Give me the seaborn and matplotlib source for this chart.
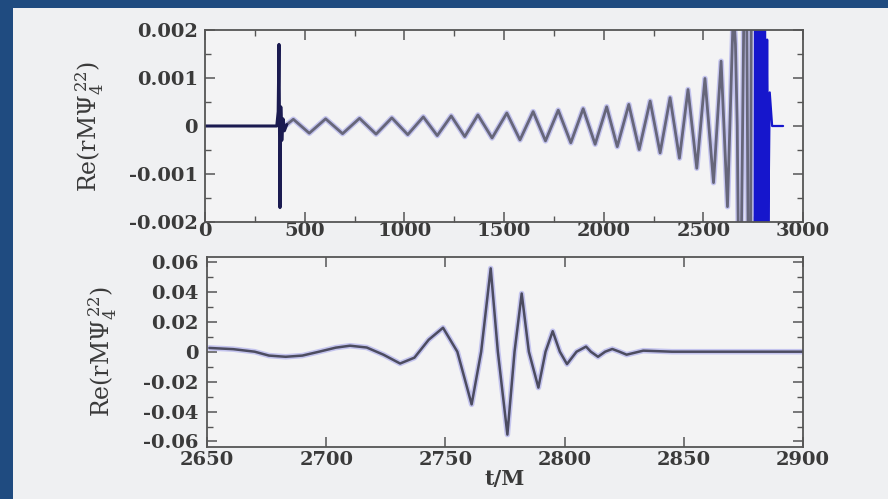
import matplotlib
matplotlib.use("Agg")
import matplotlib.pyplot as plt
from matplotlib.patches import Rectangle
from matplotlib.ticker import MultipleLocator
import seaborn as sns

# junk radiation burst at the start of the run (t/M, Re(rM Psi4))
junk_t = [0, 360, 367, 371, 376, 380, 385, 391, 398, 410]
junk_re = [0, 0, 0.0003, 0.0017, -0.0017, 0.0004, -0.0003, 0.00015, -0.0001, 0.00003]

# inspiral: peaks and troughs
insp_t = [443, 523, 605, 690, 775, 858, 937, 1017, 1095, 1165, 1235, 1303,
          1369, 1440, 1514, 1580, 1646, 1708, 1772, 1835, 1897, 1957, 2015, 2068,
          2126, 2178, 2233, 2283, 2333, 2380, 2423, 2467, 2508, 2551, 2589, 2621]
insp_re = [0.00014, -0.00015, 0.00015, -0.00016, 0.00016, -0.00017, 0.00017, -0.00018,
           0.00019, -0.00020, 0.00021, -0.00022, 0.00023, -0.00025, 0.00027, -0.00029,
           0.00030, -0.00031, 0.00033, -0.00035, 0.00036, -0.00038, 0.00040, -0.00043,
           0.00045, -0.00049, 0.00052, -0.00056, 0.00059, -0.00067, 0.00076, -0.00088,
           0.00099, -0.00118, 0.00135, -0.00168]

# merger + ringdown (lower panel)
mrg_t = [2651, 2661, 2670, 2676, 2683, 2690, 2697, 2704, 2710, 2717, 2724, 2731,
         2737, 2743, 2749, 2755, 2761, 2765, 2769, 2772, 2776, 2779, 2782, 2785,
         2789, 2792, 2795, 2798, 2801, 2805, 2809, 2811, 2814, 2817, 2820, 2823,
         2826, 2833, 2845, 2900]
mrg_re = [0.0025, 0.0017, 0.0, -0.0026, -0.0034, -0.0026, 0.0, 0.0027, 0.004, 0.0028,
          -0.002, -0.0079, -0.004, 0.008, 0.016, 0.0, -0.0352, 0.0, 0.0557, 0.0,
          -0.0554, 0.0, 0.0389, 0.0, -0.024, 0.0, 0.0137, 0.0, -0.0083, 0.0,
          0.0034, 0.0, -0.0034, 0.0, 0.0018, 0.0, -0.002, 0.0007, 0.0, 0.0]

top_xticks = [0, 500, 1000, 1500, 2000, 2500, 3000]
top_yticks = [-0.002, -0.001, 0, 0.001, 0.002]
top_ylabels = ['-0.002', '-0.001', '0', '0.001', '0.002']
bot_xticks = [2650, 2700, 2750, 2800, 2850, 2900]
bot_yticks = [-0.06, -0.04, -0.02, 0, 0.02, 0.04, 0.06]
bot_ylabels = ['-0.06', '-0.04', '-0.02', '0', '0.02', '0.04', '0.06']
ylab = r'Re(rM$\Psi_4^{\,22}$)'

sns.set_theme(style='ticks')
plt.rcParams['font.family'] = ['DejaVu Serif']
plt.rcParams['mathtext.fontset'] = 'dejavuserif'
plt.rcParams['axes.unicode_minus'] = False

fig = plt.figure(figsize=(8.88, 4.99), dpi=100, facecolor='#1f4b80')
fig.add_artist(Rectangle((13 / 888, 0), 1, 1 - 8 / 499, transform=fig.transFigure,
                         facecolor='#eff0f2', edgecolor='none', zorder=0))

ax1 = fig.add_axes([0.2309, 0.5551, 0.6734, 0.3848])
ax2 = fig.add_axes([0.2331, 0.1048, 0.6712, 0.3808])

# ---------------- upper panel: whole run ----------------
gray_t = junk_t[-1:] + insp_t + [t for t in mrg_t if t <= 2745]
gray_re = junk_re[-1:] + insp_re + [v for t, v in zip(mrg_t, mrg_re) if t <= 2745]

sns.lineplot(x=mrg_t, y=mrg_re, ax=ax1, color='#1616cc', lw=1.6,
             estimator=None, sort=False)
sns.lineplot(x=gray_t, y=gray_re, ax=ax1, color='#c4c4ee', lw=4.0,
             estimator=None, sort=False, solid_joinstyle='round')
sns.lineplot(x=gray_t, y=gray_re, ax=ax1, color='#66667a', lw=2.0,
             estimator=None, sort=False, solid_joinstyle='round')
sns.lineplot(x=junk_t, y=junk_re, ax=ax1, color='#1a1a50', lw=2.2,
             estimator=None, sort=False)

ax1.set_xlim(0, 3000)
ax1.set_ylim(-0.002, 0.002)
ax1.set_xticks(top_xticks)
ax1.set_yticks(top_yticks, labels=top_ylabels)
ax1.xaxis.set_minor_locator(MultipleLocator(250))
ax1.yaxis.set_minor_locator(MultipleLocator(0.0005))
ax1.tick_params(axis='x', pad=0)
ax1.tick_params(axis='y', pad=5)
ax1.set_xlabel('')
ax1.set_ylabel(ylab, fontsize=17, color='#3a3a3a')
ax1.yaxis.set_label_coords(-0.165, 0.5)

# ---------------- lower panel: merger close-up ----------------
sns.lineplot(x=mrg_t, y=mrg_re, ax=ax2, color='#c4c4ee', lw=4.0,
             estimator=None, sort=False, solid_joinstyle='round')
sns.lineplot(x=mrg_t, y=mrg_re, ax=ax2, color='#4c4c60', lw=1.8,
             estimator=None, sort=False, solid_joinstyle='round')

ax2.set_xlim(2650, 2900)
ax2.set_ylim(-0.0635, 0.0635)
ax2.set_xticks(bot_xticks)
ax2.set_yticks(bot_yticks, labels=bot_ylabels)
ax2.yaxis.set_minor_locator(MultipleLocator(0.01))
ax2.tick_params(axis='x', pad=3)
ax2.tick_params(axis='y', pad=6)
ax2.set_xlabel('t/M', fontsize=15, fontweight='bold', color='#3a3a3a', labelpad=0)
ax2.set_ylabel(ylab, fontsize=17, color='#3a3a3a')
ax2.yaxis.set_label_coords(-0.148, 0.5)

for ax in (ax1, ax2):
    ax.set_facecolor('#f3f3f4')
    for sp in ax.spines.values():
        sp.set_color('#555555')
        sp.set_linewidth(1.3)
    ax.tick_params(which='both', direction='in', top=True, right=True,
                   color='#555555', labelsize=14, labelcolor='#3a3a3a')
    ax.tick_params(which='major', length=7, width=1.1)
    ax.tick_params(which='minor', length=4, width=1.0)
    for lab in ax.get_xticklabels() + ax.get_yticklabels():
        lab.set_fontweight('bold')

fig.savefig('out.png', dpi=100, facecolor=fig.get_facecolor())
